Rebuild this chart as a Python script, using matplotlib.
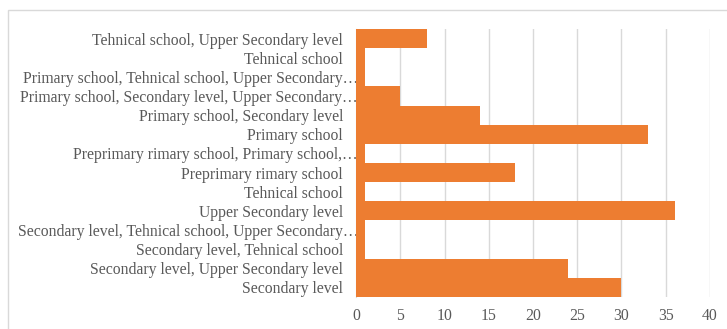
import matplotlib.pyplot as plt
from matplotlib.patches import Rectangle

# categories top to bottom, as shown in the chart
categories = [
    "Tehnical school, Upper Secondary level",
    "Tehnical school",
    "Primary school, Tehnical school, Upper Secondary\u2026",
    "Primary school, Secondary level, Upper Secondary\u2026",
    "Primary school, Secondary level",
    "Primary school",
    "Preprimary rimary school, Primary school,\u2026",
    "Preprimary rimary school",
    "Tehnical school",
    "Upper Secondary level",
    "Secondary level, Tehnical school, Upper Secondary\u2026",
    "Secondary level, Tehnical school",
    "Secondary level, Upper Secondary level",
    "Secondary level",
]
counts = [8, 1, 1, 5, 14, 33, 1, 18, 1, 36, 1, 1, 24, 30]
x_ticks = [0, 5, 10, 15, 20, 25, 30, 35, 40]

plt.rcParams['font.family'] = ['Liberation Serif', 'DejaVu Serif']
text_color = "#595959"
grid_color = "#d9d9d9"

fig = plt.figure(figsize=(7.27, 3.29), dpi=100)
ax = fig.add_axes([0.4897, 0.0973, 0.4869, 0.8146])

# outer chart border
fig.patches.append(Rectangle((8 / 727, -0.1), 1.2, 1.1 - 10 / 329,
                             transform=fig.transFigure, fill=False,
                             edgecolor=grid_color, linewidth=1.0))

positions = list(range(len(categories)))
ax.barh(positions, counts, height=1.0, color="#ED7D31", zorder=3)

ax.set_yticks(positions)
ax.set_yticklabels([])
ax.set_ylim(len(categories) - 0.5, -0.5)

# category labels drawn by hand: truncated ones run further right, like Excel
axis_width_px = 0.4869 * 727
for pos, name in zip(positions, categories):
    x_px = 2 if name.endswith("\u2026") else -13
    ax.text(x_px / axis_width_px, pos, name, transform=ax.get_yaxis_transform(),
            ha="right", va="center_baseline", fontsize=11.3, color=text_color, zorder=1)

ax.set_xlim(0, 40)
ax.set_xticks(x_ticks)
ax.set_xticklabels([str(t) for t in x_ticks], fontsize=11.3, color=text_color)
ax.tick_params(axis="y", length=0)
ax.tick_params(axis="x", length=0, pad=8)
ax.xaxis.grid(True, color=grid_color, linewidth=1.0, zorder=0)

for side in ["top", "right", "bottom"]:
    ax.spines[side].set_visible(False)
ax.spines["left"].set_color(grid_color)

plt.savefig("out.png", dpi=100)
